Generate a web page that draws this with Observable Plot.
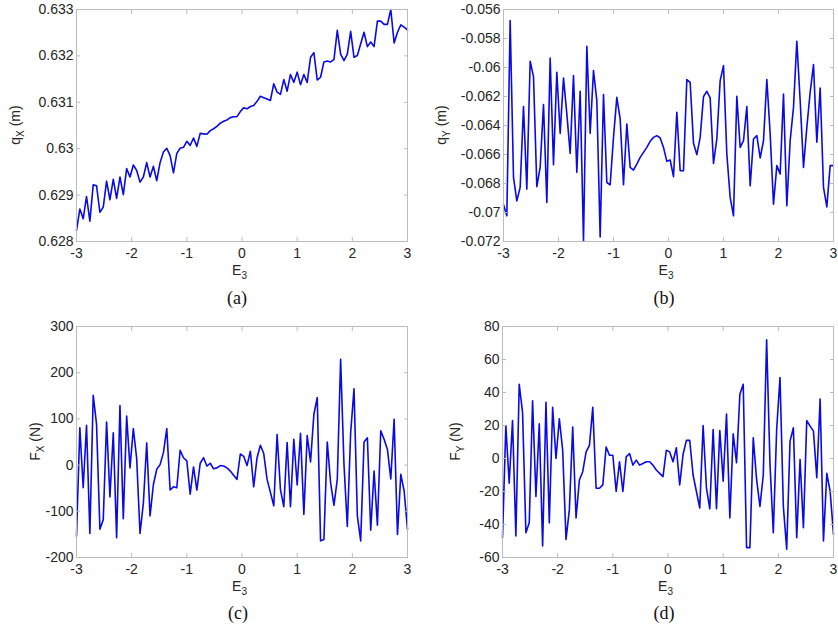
<!DOCTYPE html>
<html>
<head>
<meta charset="utf-8">
<script src="https://cdn.jsdelivr.net/npm/d3@7"></script>
<script src="https://cdn.jsdelivr.net/npm/@observablehq/plot@0.6"></script>
<style>
  body { margin: 0; background: #fff; }
  #wrap { position: relative; width: 838px; height: 626px; overflow: hidden; background: #fff; }
  .panel { position: absolute; }
  .cap { position: absolute; font-family: "Liberation Serif", "Times New Roman", serif; font-size: 18px; color: #111; transform: translate(-50%, -50%); white-space: nowrap; }
</style>
</head>
<body>
<div id="wrap"></div>
<script>
// ---- data ----
const E3_START = -3, E3_END = 3, N_POINTS = 100;
const xTicks = [-3, -2, -1, 0, 1, 2, 3];
const qxTicks = [0.628, 0.629, 0.63, 0.631, 0.632, 0.633];
const qyTicks = [-0.072, -0.07, -0.068, -0.066, -0.064, -0.062, -0.06, -0.058, -0.056];
const fxTicks = [-200, -100, 0, 100, 200, 300];
const fyTicks = [-60, -40, -20, 0, 20, 40, 60, 80];

const qX = [0.62824,0.6287,0.62849,0.62897,0.62844,0.62922,0.6292,0.62863,0.62874,0.6293,
0.6289,0.62934,0.62893,0.62939,0.62901,0.62957,0.62939,0.62965,0.62953,0.62928,
0.62939,0.6297,0.62939,0.62962,0.62931,0.6297,0.62993,0.63001,0.62985,0.62948,
0.6299,0.63001,0.63003,0.63016,0.63007,0.63023,0.63005,0.63033,0.63032,0.63031,
0.63039,0.63043,0.63048,0.63055,0.63059,0.63062,0.63067,0.63069,0.63069,0.6308,
0.63088,0.63086,0.63091,0.63093,0.63102,0.63113,0.6311,0.63107,0.63104,0.6314,
0.63122,0.63117,0.63149,0.63124,0.6316,0.63143,0.63165,0.63138,0.6316,0.63143,
0.63197,0.63207,0.63148,0.63154,0.63187,0.63189,0.63187,0.63192,0.63255,0.63204,
0.6319,0.63204,0.63253,0.63197,0.63201,0.63226,0.63251,0.6322,0.6323,0.6322,
0.63275,0.63275,0.63268,0.63268,0.633,0.63228,0.63251,0.63267,0.63262,0.63256];

const qY = [-0.06947,-0.07023,-0.05676,-0.06758,-0.0692,-0.06827,-0.0627,-0.06839,-0.05957,-0.06063,
-0.06822,-0.06689,-0.06256,-0.06931,-0.05934,-0.0667,-0.06033,-0.06454,-0.06072,-0.0632,
-0.06592,-0.06056,-0.06723,-0.06164,-0.07195,-0.05853,-0.06454,-0.06021,-0.06229,-0.07168,
-0.06187,-0.06793,-0.06809,-0.06482,-0.06206,-0.06355,-0.06809,-0.0639,-0.06689,-0.06707,
-0.06666,-0.0662,-0.06585,-0.06551,-0.06509,-0.06482,-0.0647,-0.06486,-0.06551,-0.06647,
-0.06638,-0.06753,-0.06309,-0.06712,-0.06712,-0.06083,-0.06102,-0.06523,-0.06601,-0.06482,
-0.06201,-0.06164,-0.0621,-0.06661,-0.06493,-0.0609,-0.05987,-0.06597,-0.06896,-0.07023,
-0.06199,-0.06551,-0.06505,-0.0627,-0.06816,-0.06493,-0.0647,-0.06624,-0.06505,-0.06083,
-0.06459,-0.06942,-0.06677,-0.06735,-0.06183,-0.06954,-0.06505,-0.06275,-0.05819,-0.06229,
-0.06689,-0.06413,-0.06171,-0.0598,-0.06516,-0.06141,-0.06827,-0.06961,-0.06677,-0.06677];

const FX = [-154,81,-49,86,-148,151,88,-139,-118,93,
-69,70,-157,129,-116,106,-6,79,14,-148,
-82,48,-110,-42,-9,1,27,79,-54,-47,
-49,32,16,9,-63,-4,-54,4,16,-2,
4,-8,-6,-1,-2,-6,-13,-22,-31,24,
19,-1,30,-47,16,43,25,-31,-59,-88,
66,-53,-90,49,-90,56,-43,69,-107,64,
7,110,146,-164,-161,50,-38,-87,-31,229,
2,-133,70,165,-110,-164,50,59,-141,-13,
-130,74,56,34,-30,99,-150,-20,-56,-139];

const FY = [-48,20,-15,23,-47,45,28,-45,-39,35,
-23,21,-53,34,-39,31,0,24,5,-49,
-31,19,-36,-13,-8,4,8,31,-18,-18,
-16,7,2,2,-20,-2,-20,1,3,-4,
-1,-4,-3,-2,-2,-4,-7,-9,-11,5,
4,-2,6.5,-16,2.4,11,11,-10,-20,-30,
20,-18,-30.5,17.6,-30.5,17,-13.7,27,-36,15,
-2.6,39,45,-54,-54,12.5,-12.7,-29,-10,72,
-3,-45,17.6,49,-29,-55,10.5,18.6,-48,-0.6,
-42,23,19.6,16.6,-11.7,36,-50,-9,-20,-46];

const E3 = d3.range(N_POINTS).map(i => E3_START + (E3_END - E3_START) * i / (N_POINTS - 1));

// ---- layout / style ----
const FONT = "Liberation Sans, Arial, Helvetica, sans-serif";
const LINE = "#0a0ae6";
const FRAME = "#bcbcbc";
const TXT = "#262626";
const fmt = d => String(+(+d).toFixed(4));

const panels = [
  {left: 0,   top: 0,   mL: 76, mR: 12, mT: 9,  mB: 41, y: qX, domain: [0.628, 0.633],  ticks: qxTicks, lab: ["q", "X", " (m)"], labX: 15, cap: "(a)", capX: 237, capY: 298},
  {left: 419, top: 0,   mL: 84, mR: 5,  mT: 9,  mB: 41, y: qY, domain: [-0.072, -0.056], ticks: qyTicks, lab: ["q", "Y", " (m)"], labX: 22, cap: "(b)", capX: 664, capY: 298},
  {left: 0,   top: 316, mL: 76, mR: 12, mT: 10, mB: 41, y: FX, domain: [-200, 300],     ticks: fxTicks, lab: ["F", "X", " (N)"], labX: 35, cap: "(c)", capX: 238, capY: 613},
  {left: 419, top: 316, mL: 83, mR: 5,  mT: 10, mB: 41, y: FY, domain: [-60, 80],       ticks: fyTicks, lab: ["F", "Y", " (N)"], labX: 36, cap: "(d)", capX: 664, capY: 613}
];

const wrap = document.getElementById("wrap");
const W = 419, H = 282;

for (const p of panels) {
  const data = E3.map((x, i) => ({x, v: p.y[i]}));
  const chart = Plot.plot({
    width: W, height: H,
    marginLeft: p.mL, marginRight: p.mR, marginTop: p.mT, marginBottom: p.mB,
    style: {fontFamily: FONT, fontSize: "14px", color: TXT, background: "transparent", overflow: "visible"},
    x: {domain: [E3_START, E3_END]},
    y: {domain: p.domain},
    marks: [
      Plot.line(data, {x: "x", y: "v", stroke: LINE, strokeWidth: 1.6}),
      Plot.frame({stroke: FRAME, strokeWidth: 1}),
      Plot.axisX({ticks: xTicks, tickSize: -4, tickPadding: 11, tickFormat: fmt, label: null, stroke: FRAME, fill: TXT}),
      Plot.axisX({anchor: "top", ticks: xTicks, tickSize: -4, tickFormat: () => "", label: null, stroke: FRAME}),
      Plot.axisY({ticks: p.ticks, tickSize: -4, tickPadding: 7, tickFormat: fmt, label: null, stroke: FRAME, fill: TXT}),
      Plot.axisY({anchor: "right", ticks: p.ticks, tickSize: -4, tickFormat: () => "", label: null, stroke: FRAME})
    ]
  });
  chart.classList.add("panel");
  chart.style.left = p.left + "px";
  chart.style.top = p.top + "px";
  wrap.appendChild(chart);

  const svg = d3.select(chart);
  const plotCY = p.mT + (H - p.mT - p.mB) / 2;
  const plotCX = p.mL + (W - p.mL - p.mR) / 2;
  // y label with subscript
  const t = svg.append("text")
    .attr("transform", `translate(${p.labX + 5},${plotCY}) rotate(-90)`)
    .attr("text-anchor", "middle")
    .attr("font-family", FONT).attr("font-size", 14).attr("fill", TXT);
  t.append("tspan").text(p.lab[0]);
  t.append("tspan").attr("font-size", 10).attr("dy", 4).text(p.lab[1]);
  t.append("tspan").attr("dy", -4).text(p.lab[2]);
  // x label E3
  const xl = svg.append("text")
    .attr("x", plotCX - 2).attr("y", H - p.mB + 34)
    .attr("text-anchor", "middle")
    .attr("font-family", FONT).attr("font-size", 14).attr("fill", TXT);
  xl.append("tspan").text("E");
  xl.append("tspan").attr("font-size", 10).attr("dy", 4).text("3");

  const cap = document.createElement("div");
  cap.className = "cap";
  cap.textContent = p.cap;
  cap.style.left = p.capX + "px";
  cap.style.top = p.capY + "px";
  wrap.appendChild(cap);
}
</script>
</body>
</html>
